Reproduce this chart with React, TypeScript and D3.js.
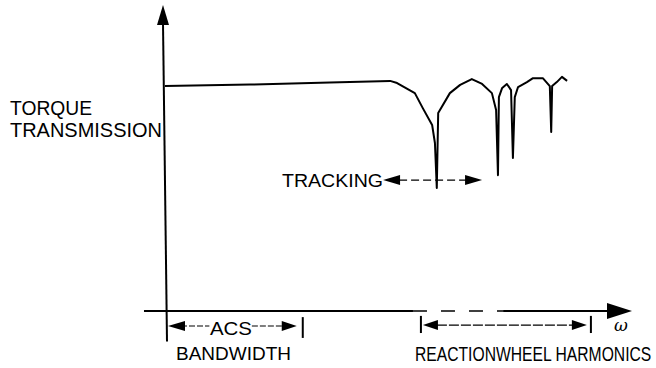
import React from 'react'
import * as d3 from 'd3'

const W = 656
const H = 368

// frequency (omega) vs torque transmission
const omega = [0, 18.2, 35.3, 48.2, 49.7, 53.5, 55.2, 57.2, 57.8, 58.2, 58.5, 61.0, 63.2, 65.7, 67.9, 70.0, 70.9, 71.3, 71.5, 72.2, 73.2, 74.1, 74.5, 74.9, 75.6, 77.5, 78.8, 80.9, 82.4, 82.7, 82.9, 83.9, 85.0, 86.1]
const transmission = [73.5, 74.0, 74.7, 75.2, 74.5, 71.2, 66.3, 60.8, 54.9, 40.2, 64.7, 71.2, 73.9, 75.8, 74.2, 71.2, 65.7, 44.4, 69.9, 72.9, 74.2, 72.2, 50.0, 69.9, 73.2, 74.8, 76.1, 76.1, 73.5, 58.5, 73.5, 74.8, 76.5, 75.2]

// frequency bands drawn under the axis
const acsBand = [0, 29.5]
const harmonicBand = [54.8, 91.2]
const trackingBand = [46.7, 67.9]
const axisGap = [53.1, 72.4]

const yLabel = ['TORQUE', 'TRANSMISSION']

const font = '"Liberation Sans", Arial, sans-serif'

export default function App() {
  const x = d3.scaleLinear().domain([0, 100]).range([165, 632])
  const y = d3.scaleLinear().domain([0, 100]).range([311, 5])

  const pts: [number, number][] = omega.map((w, i) => [w, transmission[i]])
  const line = d3.line<[number, number]>().x(d => x(d[0])).y(d => y(d[1]))

  const arrowHead = (tipX: number, tipY: number, dir: number, len = 16, half = 5) =>
    `${tipX},${tipY} ${tipX - dir * len},${tipY - half} ${tipX - dir * len},${tipY + half}`

  const x0 = x(0)
  const y0 = y(0)
  const acsY = y(-4.9)
  const harmY = y(-4.6)
  const trackY = y(42.8)

  return (
    <svg width={W} height={H} style={{ position: 'absolute', left: 0, top: 0, background: '#fff' }}>
      <g stroke="#000" fill="none" strokeWidth={2}>
        {/* y axis */}
        <line x1={x0 - 2} y1={y(94)} x2={x0 + 2} y2={y(-10)} />
        {/* x axis with dashed gap */}
        <line x1={x(-4.5)} y1={y0} x2={x(axisGap[0])} y2={y0} />
        <line x1={x(axisGap[0])} y1={y0} x2={x(axisGap[1])} y2={y0} strokeDasharray="14 14" strokeWidth={1.5} />
        <line x1={x(axisGap[1])} y1={y0} x2={x(95)} y2={y0} />
        {/* response curve */}
        <path d={line(pts) ?? ''} strokeWidth={2} strokeLinejoin="round" />
      </g>
      <g fill="#000">
        <polygon points={`${x0 - 2},${y(100)} ${x0 - 8},${y(93.5)} ${x0 + 4},${y(93.5)}`} />
        <polygon points={arrowHead(x(100), y0, 1, 25, 8)} />
      </g>

      {/* ACS bandwidth */}
      <g stroke="#000" fill="none" strokeWidth={1.2}>
        <line x1={x(acsBand[1])} y1={y(-2)} x2={x(acsBand[1])} y2={y(-8.8)} strokeWidth={2} />
        <line x1={x(acsBand[0]) + 16} y1={acsY} x2={x(9.5)} y2={acsY} strokeDasharray="6 2" />
        <line x1={x(18.6)} y1={acsY} x2={x(acsBand[1]) - 20} y2={acsY} strokeDasharray="6 2" />
      </g>
      <g fill="#000">
        <polygon points={arrowHead(x(acsBand[0]) + 3, acsY, -1, 17, 5)} />
        <polygon points={arrowHead(x(acsBand[1]) - 6, acsY, 1, 15, 5)} />
      </g>

      {/* reaction wheel harmonics */}
      <g stroke="#000" fill="none" strokeWidth={1.2}>
        <line x1={x(harmonicBand[0])} y1={y(-1.6)} x2={x(harmonicBand[0])} y2={y(-7.2)} strokeWidth={2} />
        <line x1={x(harmonicBand[1])} y1={y(-1.6)} x2={x(harmonicBand[1])} y2={y(-7.2)} strokeWidth={2} />
        <line x1={x(harmonicBand[0]) + 16} y1={harmY} x2={x(harmonicBand[1]) - 18} y2={harmY} strokeDasharray="10 2" />
      </g>
      <g fill="#000">
        <polygon points={arrowHead(x(harmonicBand[0]) + 2, harmY, -1, 15, 5)} />
        <polygon points={arrowHead(x(harmonicBand[1]) - 4, harmY, 1, 15, 5)} />
      </g>

      {/* tracking */}
      <g stroke="#000" fill="none" strokeWidth={1.2}>
        <line x1={x(trackingBand[0]) + 16} y1={trackY} x2={x(trackingBand[1]) - 16} y2={trackY} strokeDasharray="8 4" />
      </g>
      <g fill="#000">
        <polygon points={arrowHead(x(trackingBand[0]), trackY, -1, 17, 5)} />
        <polygon points={arrowHead(x(trackingBand[1]), trackY, 1, 17, 5)} />
      </g>

      <g fontFamily={font} fill="#000">
        <text x={10} y={115} fontSize={21} textLength={82} lengthAdjust="spacingAndGlyphs">{yLabel[0]}</text>
        <text x={10} y={137} fontSize={21} textLength={152} lengthAdjust="spacingAndGlyphs">{yLabel[1]}</text>
        <text x={282} y={187} fontSize={18.5} textLength={101} lengthAdjust="spacingAndGlyphs">TRACKING</text>
        <text x={210} y={335} fontSize={19} textLength={42} lengthAdjust="spacingAndGlyphs">ACS</text>
        <text x={176} y={360} fontSize={19} textLength={115} lengthAdjust="spacingAndGlyphs">BANDWIDTH</text>
        {/* condensed label: squeezed horizontally to its drawn width */}
        <text transform="translate(415,361) scale(0.804,1)" fontSize={19.5}>REACTIONWHEEL HARMONICS</text>
      </g>
      <text x={614} y={331} fontFamily="'DejaVu Serif', serif" fontStyle="italic" fontSize={17} fill="#000">ω</text>
    </svg>
  )
}
